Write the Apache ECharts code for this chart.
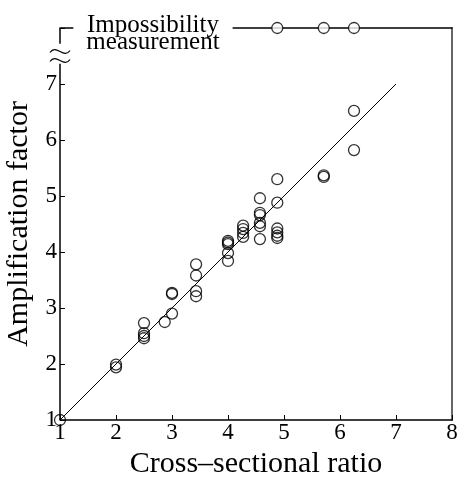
<!DOCTYPE html>
<html>
<head>
<meta charset="utf-8">
<script src="https://cdn.jsdelivr.net/npm/echarts@6/dist/echarts.min.js"></script>
<style>
  html, body { margin: 0; background: #fff; }
  #chart { width: 457px; height: 477px; }
</style>
</head>
<body>
<div id="chart"></div>
<script>
// measured points [cross-sectional ratio, amplification factor]
const measured = [
  [1, 1],
  [2, 1.99], [2, 1.94],
  [2.5, 2.73], [2.5, 2.55], [2.5, 2.5], [2.5, 2.46],
  [2.87, 2.75],
  [3, 3.27], [3, 3.25], [3, 2.9],
  [3.43, 3.78], [3.43, 3.58], [3.43, 3.3], [3.43, 3.21],
  [4, 4.2], [4, 4.17], [4, 4.14], [4, 3.98], [4, 3.84],
  [4.27, 4.47], [4.27, 4.41], [4.27, 4.34], [4.27, 4.27],
  [4.57, 4.96], [4.57, 4.7], [4.57, 4.66], [4.57, 4.52], [4.57, 4.46], [4.57, 4.23],
  [4.88, 5.3], [4.88, 4.88], [4.88, 4.42], [4.88, 4.35], [4.88, 4.29], [4.88, 4.25],
  [5.71, 5.37], [5.71, 5.34],
  [6.25, 6.52], [6.25, 5.82]
];
// cases where measurement was impossible (drawn on the top line)
const impossibleX = [4.88, 5.71, 6.25];
const impossibleLevel = 8;
const fitLine = [[1, 1], [7, 7]];
const yLabelMax = 7;

const FONT = 'Liberation Serif';
const chart = echarts.init(document.getElementById('chart'));

chart.setOption({
  animation: false,
  grid: { left: 60, right: 5, top: 28, bottom: 57, outerBoundsMode: 'none' },
  xAxis: [{
    type: 'value', min: 1, max: 8, interval: 1,
    name: 'Cross–sectional ratio', nameLocation: 'middle', nameGap: 24,
    nameTextStyle: { fontFamily: FONT, fontSize: 30, color: '#000' },
    axisLine: { lineStyle: { color: '#000', width: 1.5 } },
    axisTick: { inside: true, length: 5, lineStyle: { color: '#000' } },
    axisLabel: { fontFamily: FONT, fontSize: 23, color: '#000', margin: 1 },
    splitLine: { show: false }
  }, {
    type: 'value', min: 1, max: 8, position: 'top',
    axisLine: { lineStyle: { color: '#000', width: 1.5 } },
    axisTick: { show: false }, axisLabel: { show: false }, splitLine: { show: false }
  }],
  yAxis: [{
    type: 'value', min: 1, max: 8, interval: 1,
    name: 'Amplification factor', nameLocation: 'middle', nameGap: 22,
    nameTextStyle: { fontFamily: FONT, fontSize: 30, color: '#000' },
    axisLine: { show: false },
    axisTick: { show: true, inside: true, length: 5, lineStyle: { color: '#000' } },
    axisLabel: {
      fontFamily: FONT, fontSize: 23, color: '#000', margin: 3,
      formatter: v => (v <= yLabelMax ? String(v) : '')
    },
    splitLine: { show: false }
  }, {
    type: 'value', min: 1, max: 8, position: 'right',
    axisLine: { show: true, lineStyle: { color: '#666', width: 2 } },
    axisTick: { show: false }, axisLabel: { show: false }, splitLine: { show: false }
  }],
  series: [{
    type: 'line', data: fitLine, symbol: 'none',
    lineStyle: { color: '#000', width: 1 },
    markLine: {
      silent: true, symbol: 'none', label: { show: false },
      lineStyle: { color: '#000', width: 1.5, type: 'solid' },
      data: [
        [{ coord: [1, 1] }, { coord: [1, 7.36] }],
        [{ coord: [1, 7.72] }, { coord: [1, 8] }]
      ]
    }
  }, {
    type: 'scatter', data: measured, symbol: 'circle', symbolSize: 11,
    itemStyle: { color: 'rgba(255,255,255,0)', borderColor: '#000', borderWidth: 1.3 }
  }, {
    type: 'scatter', data: impossibleX.map(x => [x, impossibleLevel]), symbol: 'circle', symbolSize: 11,
    itemStyle: { color: '#fff', borderColor: '#000', borderWidth: 1.3 }
  }]
});

// axis break marks on the left axis
const waves = [7.58, 7.42].map(v => {
  const p = chart.convertToPixel({ gridIndex: 0 }, [1, v]);
  return {
    type: 'bezierCurve', silent: true, z: 50,
    shape: { x1: p[0] - 10, y1: p[1] + 1, cpx1: p[0] - 4, cpy1: p[1] - 8, cpx2: p[0] + 4, cpy2: p[1] + 8, x2: p[0] + 10, y2: p[1] - 1 },
    style: { stroke: '#000', lineWidth: 1.2, fill: null }
  };
});
const topPt = chart.convertToPixel({ gridIndex: 0 }, [1, impossibleLevel]);
chart.setOption({
  graphic: waves.concat([{
    type: 'text', silent: true, z: 60,
    style: {
      x: topPt[0] + 93, y: topPt[1] - 11, text: 'Impossibility\nmeasurement',
      align: 'center', verticalAlign: 'top',
      fontFamily: FONT, fontSize: 25, lineHeight: 17, fill: '#000',
      backgroundColor: '#fff', padding: [0, 13]
    }
  }])
});
</script>
</body>
</html>
